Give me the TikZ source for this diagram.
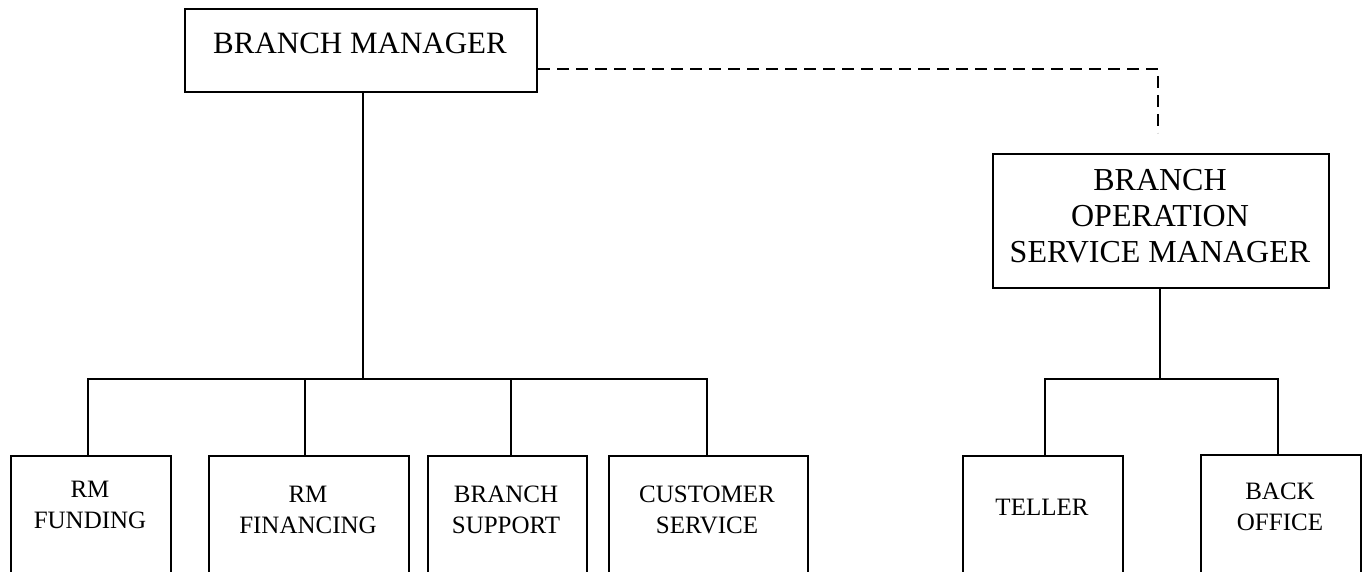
\documentclass[tikz,border=0pt]{standalone}
\usepackage{fontspec}
\setmainfont{Liberation Serif}
\begin{document}
\begin{tikzpicture}[x=1pt,y=-1pt, line width=2pt,
  box/.style={draw, line width=2pt, inner sep=0pt, anchor=north west},
  lowbox/.style={box, minimum height=160pt},
  lbl/.style={font=\fontsize{25}{31}\selectfont, align=center, inner sep=0pt, anchor=base},
  big/.style={font=\fontsize{31}{36}\selectfont, align=center, inner sep=0pt, anchor=base},
  dashline/.style={line width=2pt, dash pattern=on 12pt off 7pt}]
\useasboundingbox (0,0) rectangle (1365,572);
\clip (0,0) rectangle (1365,572);
% top boxes
\node[box, minimum width=352pt, minimum height=83pt] (bm) at (184,8) {};
\node[big] (bmt) at (360,54) {BRANCH MANAGER};
\node[box, minimum width=336pt, minimum height=134pt] (bosm) at (992,153) {};
\node[big, font=\fontsize{32}{36}\selectfont] (bosmt) at (1160,262) {BRANCH\\OPERATION\\SERVICE MANAGER};
% bottom boxes
\node[lowbox, minimum width=160pt] (fund) at (10,455) {};
\node[lbl] (fundt) at (90,528) {RM\\FUNDING};
\node[lowbox, minimum width=200pt] (fin) at (208,455) {};
\node[lbl] (fint) at (308,533) {RM\\FINANCING};
\node[lowbox, minimum width=159pt] (sup) at (427,455) {};
\node[lbl] (supt) at (506,533) {BRANCH\\SUPPORT};
\node[lowbox, minimum width=199pt] (cust) at (608,455) {};
\node[lbl] (custt) at (707,533) {CUSTOMER\\SERVICE};
\node[lowbox, minimum width=160pt] (tell) at (962,455) {};
\node[lbl] (tellt) at (1042,515) {TELLER};
\node[lowbox, minimum width=160pt] (back) at (1200,454) {};
\node[lbl] (backt) at (1280,530) {BACK\\OFFICE};
% connectors
\coordinate (bus1) at (362,379);
\coordinate (dbm) at ([xshift=2pt]bm.south);
\coordinate (dfund) at ([xshift=-3pt]fund.north);
\coordinate (dfin) at ([xshift=-4pt]fin.north);
\coordinate (dsup) at ([xshift=3pt]sup.north);
\coordinate (dcust) at ([xshift=-2pt]cust.north);
\draw (dbm) -- (dbm |- bus1);
\draw (dfund) |- (dcust |- bus1) -- (dcust);
\draw (dfin) -- (dfin |- bus1);
\draw (dsup) -- (dsup |- bus1);
\coordinate (bus2) at (1159,379);
\coordinate (dbosm) at ([xshift=-1pt]bosm.south);
\draw (dbosm) -- (dbosm |- bus2);
\coordinate (dtell) at ([xshift=2pt]tell.north);
\coordinate (dback) at ([xshift=-3pt]back.north);
\draw (dtell) |- (dback |- bus2) -- (dback);
\coordinate (dend) at (1158,133);
\draw[dashline] ([yshift=-18.5pt]bm.east) -| (dend);
\end{tikzpicture}
\end{document}
